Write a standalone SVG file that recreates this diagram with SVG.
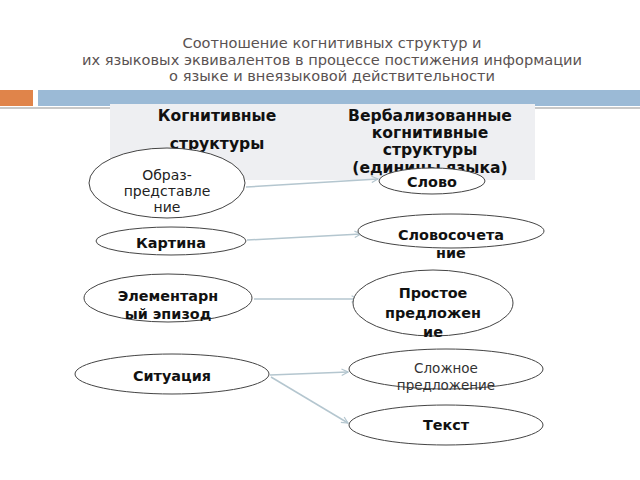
<svg xmlns="http://www.w3.org/2000/svg" width="640" height="480" viewBox="0 0 640 480">
<defs>
<style>
.t{font-family:"DejaVu Sans",Verdana,sans-serif;text-anchor:middle}
.title{font-size:14.6px;fill:#5a5252}
.h{font-size:15.6px;font-weight:bold;fill:#111}
.b{font-size:14.4px;font-weight:bold;fill:#111}
.n{font-size:14px;fill:#222}
.s{font-size:13.5px;fill:#333}
.e{fill:#fff;stroke:#444;stroke-width:1}
.c{stroke:#b4c6cf;stroke-width:1.5;fill:none;marker-end:url(#ar)}
</style>
<marker id="ar" viewBox="0 0 10 10" refX="9" refY="5" markerWidth="8" markerHeight="8" markerUnits="userSpaceOnUse" orient="auto">
<path d="M1,1 L9,5 L1,9" fill="none" stroke="#b4c6cf" stroke-width="1.5"/>
</marker>
</defs>
<rect width="640" height="480" fill="#fff"/>
<g id="title" class="t title">
<text x="332" y="48">Соотношение когнитивных структур и</text>
<text x="332" y="65">их языковых эквивалентов в процессе постижения информации</text>
<text x="332" y="81">о языке и внеязыковой действительности</text>
</g>
<g id="header-bar">
<rect x="0" y="90" width="33" height="16" fill="#e0844a"/>
<rect x="38" y="90" width="602" height="16" fill="#9bbad6"/>
<rect x="0" y="107" width="640" height="2" fill="#c8c8c8"/>
</g>
<g id="table">
<rect x="110" y="104" width="425" height="76" fill="#eeeff2"/>
<text class="t h" x="217" y="121">Когнитивные</text>
<text class="t h" x="217" y="149">структуры</text>
<text class="t h" x="430" y="121">Вербализованные</text>
<text class="t h" x="430" y="138">когнитивные</text>
<text class="t h" x="430" y="155">структуры</text>
<text class="t h" x="430" y="173">(единицы языка)</text>
</g>
<g id="connectors">
<line class="c" x1="246" y1="187" x2="378" y2="179"/>
<line class="c" x1="247" y1="240" x2="361" y2="234"/>
<line class="c" x1="254" y1="299" x2="358" y2="299"/>
<line class="c" x1="270" y1="375" x2="348" y2="372"/>
<line class="c" x1="271" y1="377" x2="348" y2="423"/>
</g>
<g id="n1"><ellipse class="e" cx="167" cy="183" rx="78" ry="35"/>
<text class="t n" x="167" y="180">Образ-</text><text class="t n" x="167" y="196">представле</text><text class="t n" x="167" y="212">ние</text></g>
<g id="n2"><ellipse class="e" cx="171" cy="241" rx="75" ry="14"/>
<text class="t b" x="171" y="248">Картина</text></g>
<g id="n3"><ellipse class="e" cx="168" cy="298" rx="84" ry="24"/>
<text class="t b" x="168" y="301">Элементарн</text><text class="t b" x="168" y="319">ый эпизод</text></g>
<g id="n4"><ellipse class="e" cx="172" cy="374" rx="97" ry="20"/>
<text class="t b" x="172" y="381">Ситуация</text></g>
<g id="n5"><ellipse class="e" cx="432" cy="181" rx="53" ry="13"/>
<text class="t b" x="432" y="187">Слово</text></g>
<g id="n6"><ellipse class="e" cx="451" cy="231" rx="93" ry="17"/>
<text class="t b" x="451" y="240">Словосочета</text><text class="t b" x="451" y="258">ние</text></g>
<g id="n7"><ellipse class="e" cx="433" cy="303" rx="80" ry="33"/>
<text class="t b" x="433" y="298">Простое</text><text class="t b" x="433" y="318">предложен</text><text class="t b" x="433" y="337">ие</text></g>
<g id="n8"><ellipse class="e" cx="446" cy="369" rx="97" ry="20"/>
<text class="t s" x="446" y="373">Сложное</text><text class="t s" x="446" y="390">предложение</text></g>
<g id="n9"><ellipse class="e" cx="446" cy="425" rx="97" ry="20"/>
<text class="t b" x="446" y="430">Текст</text></g>
</svg>
